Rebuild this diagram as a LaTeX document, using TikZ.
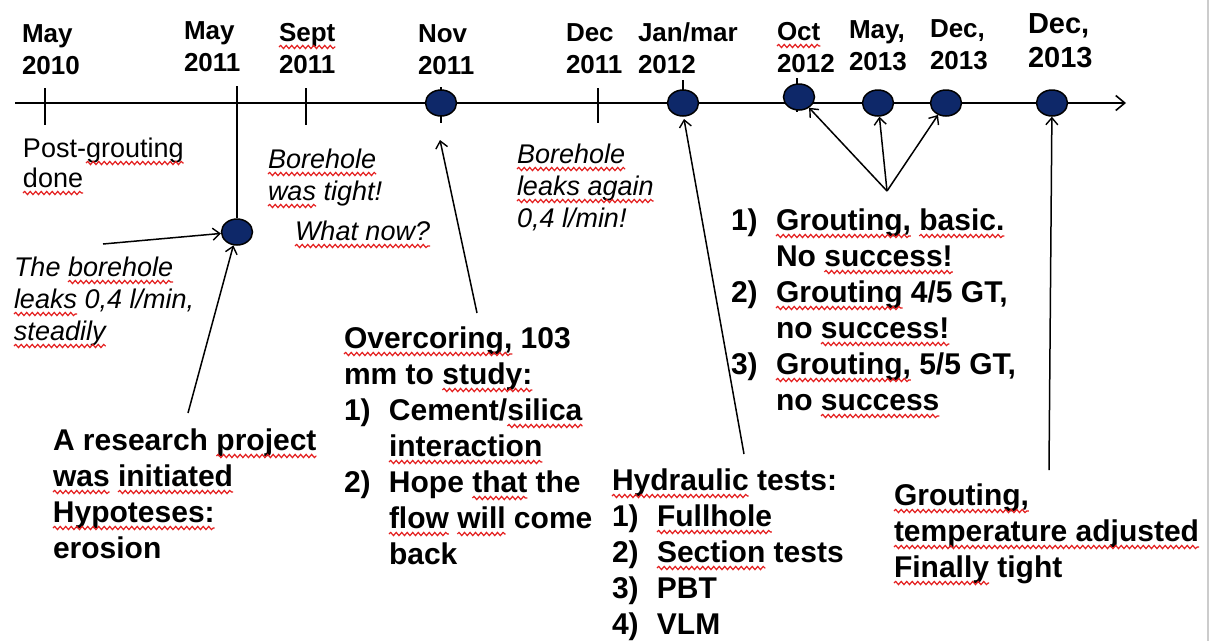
\documentclass[tikz,border=0pt]{standalone}
\usepackage{fontspec}
\setmainfont{Liberation Sans}
\usetikzlibrary{arrows.meta,shapes.geometric,decorations.pathmorphing}
\definecolor{navy}{RGB}{14,40,105}
\definecolor{squig}{RGB}{228,30,30}
\newcommand\sq[1]{\tikz[baseline=(sqw.base)]{\node[inner sep=0pt,outer sep=0pt,anchor=base](sqw){#1};\draw[overlay,squig,line width=1.2pt,decorate,decoration={snake,amplitude=1.6pt,segment length=5.5pt}]([yshift=-6pt]sqw.base west)--([yshift=-6pt]sqw.base east);}}
\newcommand\lines[1]{\begin{tabular}[t]{@{}l@{}}#1\end{tabular}}
\newcommand\itm[1]{\makebox[45pt][l]{#1}}
\newcommand\ind{\hspace*{45pt}}
\begin{document}
\begin{tikzpicture}[x=1pt,y=-1pt,
  axisline/.style={line width=1.8pt,-{Straight Barb[length=9pt,width=15pt,line width=1.6pt]}},
  tickline/.style={line width=1.8pt},
  arr/.style={line width=1.5pt,-{Straight Barb[length=7pt,width=12pt,line width=1.4pt]}},
  dot/.style={ellipse,draw=black,line width=1.5pt,fill=navy,minimum width=31pt,minimum height=26pt,inner sep=0pt},
  txt/.style={anchor=base west,inner sep=0pt,outer sep=0pt},
  date/.style={txt,font=\fontsize{26}{32}\selectfont\bfseries},
  bigdate/.style={txt,font=\fontsize{29}{34}\selectfont\bfseries},
  bold/.style={txt,font=\fontsize{30}{36}\selectfont\bfseries},
  ital/.style={txt,font=\fontsize{27}{32}\selectfont\itshape},
  plain/.style={txt,font=\fontsize{27}{30}\selectfont}]
\useasboundingbox (0,0) rectangle (1211,641);
\fill[white] (0,0) rectangle (1211,641);
\draw[black!20,line width=1.2pt] (1208,0) -- (1208,641);

% axis
\coordinate (ax0) at (15,103);
\coordinate (ax1) at (1126,103);
\draw[axisline] (ax0) -- (ax1);

% ticks
\draw[tickline] (45,88) -- (45,125);
\draw[tickline] (306,88) -- (306,125);
\draw[tickline] (441,87) -- (441,123);
\draw[tickline] (598,88) -- (598,123);
\draw[tickline] (683,80) -- (683,103);
\draw[tickline] (797,78) -- (797,112);

% dots
\node[dot] (dm11) at (237,232) {};
\node[dot] (dnov) at (441,103) {};
\node[dot] (djan) at (683,103) {};
\node[dot] (doct) at (799,97) {};
\node[dot] (dmay13) at (878,103) {};
\node[dot] (ddec13) at (946,103) {};
\node[dot] (ddec13b) at (1052,103) {};

\coordinate (m11top) at (237,86);
\draw[tickline] (m11top) -- (dm11);

% dates
\node[date] (l1) at (22,42) {\lines{May\\2010}};
\node[date] (l2) at (184,39) {\lines{May\\2011}};
\node[date] (l3) at (279,41) {\lines{\sq{Sept}\\2011}};
\node[date] (l4) at (418,42) {\lines{Nov\\2011}};
\node[date] (l5) at (566,41) {\lines{Dec\\2011}};
\node[date] (l6) at (638,41) {\lines{Jan/mar\\2012}};
\node[date] (l7) at (777,40) {\lines{\sq{Oct}\\2012}};
\node[date] (l8) at (849,38) {\lines{May,\\2013}};
\node[date] (l9) at (930,37) {\lines{Dec,\\2013}};
\node[bigdate] (l10) at (1028,33) {\lines{Dec,\\2013}};

% texts
\node[plain] (t1) at (23,157) {\lines{Post-\sq{grouting}\\\sq{done}}};
\node[ital] (t2) at (268,168) {\lines{\sq{Borehole}\\\sq{was} tight!}};
\node[ital] (t3) at (295,240) {\sq{What now?}};
\node[ital] (t4) at (517,163) {\lines{\sq{Borehole}\\\sq{leaks again}\\0,4 l/min!}};
\node[ital] (t5) at (14,276) {\lines{The \sq{borehole}\\\sq{leaks} 0,4 l/min,\\\sq{steadily}}};
\node[bold] (t6) at (53,450) {\lines{A research \sq{project}\\\sq{was} \sq{initiated}\\\sq{Hypoteses:}\\erosion}};
\node[bold] (t7) at (344,348) {\lines{\sq{Overcoring,} 103\\mm to \sq{study:}\\\itm{1)}Cement/\sq{silica}\\\ind\sq{interaction}\\\itm{2)}Hope \sq{that} the\\\ind\sq{flow} \sq{will} come\\\ind back}};
\node[bold] (t8) at (612,490) {\lines{\sq{Hydraulic} tests:\\\itm{1)}\sq{Fullhole}\\\itm{2)}\sq{Section} tests\\\itm{3)}PBT\\\itm{4)}VLM}};
\node[bold] (t9) at (731,230) {\lines{\itm{1)}\sq{Grouting,} \sq{basic.}\\\ind No \sq{success!}\\\itm{2)}\sq{Grouting} 4/5 GT,\\\ind no \sq{success!}\\\itm{3)}\sq{Grouting,} 5/5 GT,\\\ind no \sq{success}}};
\node[bold] (t10) at (894,505) {\lines{\sq{Grouting,}\\\sq{temperature adjusted}\\\sq{Finally} tight}};

% arrows
\coordinate (cA) at (103,244);
\coordinate (cB) at (188,413);
\coordinate (cC) at (477,313);
\coordinate (novtip) at (440,140);
\coordinate (cD) at (744,454);
\coordinate (jantip) at (684,119);
\coordinate (cE) at (887,191);
\coordinate (cF) at (1049,470);
\draw[arr] (cA) -- (dm11);
\draw[arr] (cB) -- (dm11);
\draw[arr] (cC) -- (novtip);
\draw[arr] (cD) -- (jantip);
\draw[arr] (cE) -- (doct);
\draw[arr] (cE) -- (dmay13);
\draw[arr] (cE) -- (ddec13);
\draw[arr] (cF) -- (ddec13b);
\end{tikzpicture}
\end{document}
